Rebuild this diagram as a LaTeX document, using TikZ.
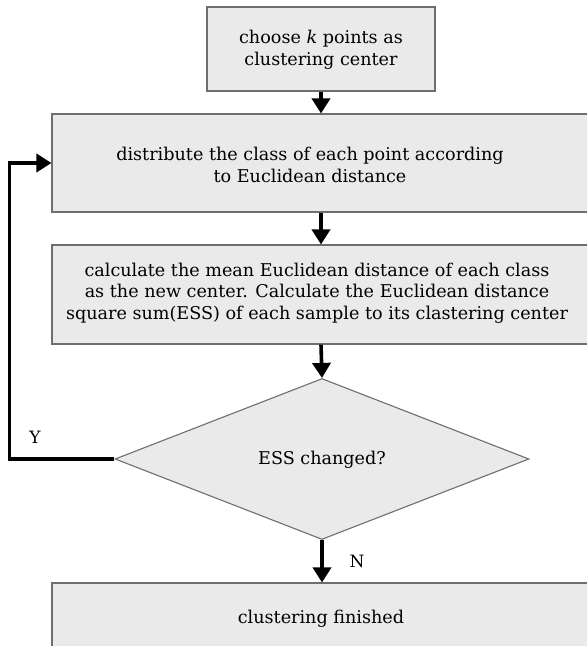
\documentclass[tikz,border=0pt]{standalone}
\usepackage{fontspec}
\setmainfont{DejaVu Serif}
\usetikzlibrary{shapes.geometric,arrows.meta}
\definecolor{boxfill}{RGB}{234,234,234}
\definecolor{boxline}{RGB}{110,110,110}
\begin{document}
\begin{tikzpicture}[x=1pt,y=-1pt,
  box/.style={draw=boxline,line width=1.1pt,fill=boxfill,rectangle,inner sep=0pt},
  dia/.style={draw=boxline,line width=1.1pt,fill=boxfill,diamond,inner sep=0pt,minimum width=414pt,minimum height=161pt},
  txt/.style={align=center,font=\fontsize{17.6}{21.5}\selectfont,inner sep=0pt},
  lbl/.style={font=\fontsize{17}{20}\selectfont,inner sep=0pt},
  arr/.style={line width=3.6pt,-{Triangle[width=18pt,length=15pt]}}]
\useasboundingbox (0,0) rectangle (587,646);
\clip (0,0) rectangle (587,646);
\node[box,minimum width=228pt,minimum height=84pt] (b1) at (321,49) {};
\node[box,minimum width=540pt,minimum height=98pt] (b2) at (322,163) {};
\node[box,minimum width=540pt,minimum height=99pt] (b3) at (322,294.5) {};
\node[dia] (d) at (322,459) {};
\node[box,minimum width=540pt,minimum height=67pt] (b4) at (322,616.5) {};
\node[txt] (t1) at (321,50) {choose \textit{k} points as\\clustering center};
\node[txt] (t2) at (310,165) {distribute the class of each point according\\to Euclidean distance};
\node[txt] (t3) at (317,293) {calculate the mean Euclidean distance of each class\\as the new center. Calculate the Euclidean distance\\square sum(ESS) of each sample to its clastering center};
\node[txt] (t4) at (322,460) {ESS changed?};
\node[txt] (t5) at (321,619) {clustering finished};
\node[lbl] (y) at (35,437) {Y};
\node[lbl] (n) at (357,561) {N};
\draw[arr] (b1.south) -- (b1.south |- b2.north);
\draw[arr] (b1.south |- b2.south) -- (b1.south |- b3.north);
\draw[arr] (b1.south |- b3.south) -- (d.north);
\draw[arr] (d.south) -- (d.south |- b4.north);
\draw[arr] (d.west) -- ++(-105,0) |- (b2.west);
\end{tikzpicture}
\end{document}
